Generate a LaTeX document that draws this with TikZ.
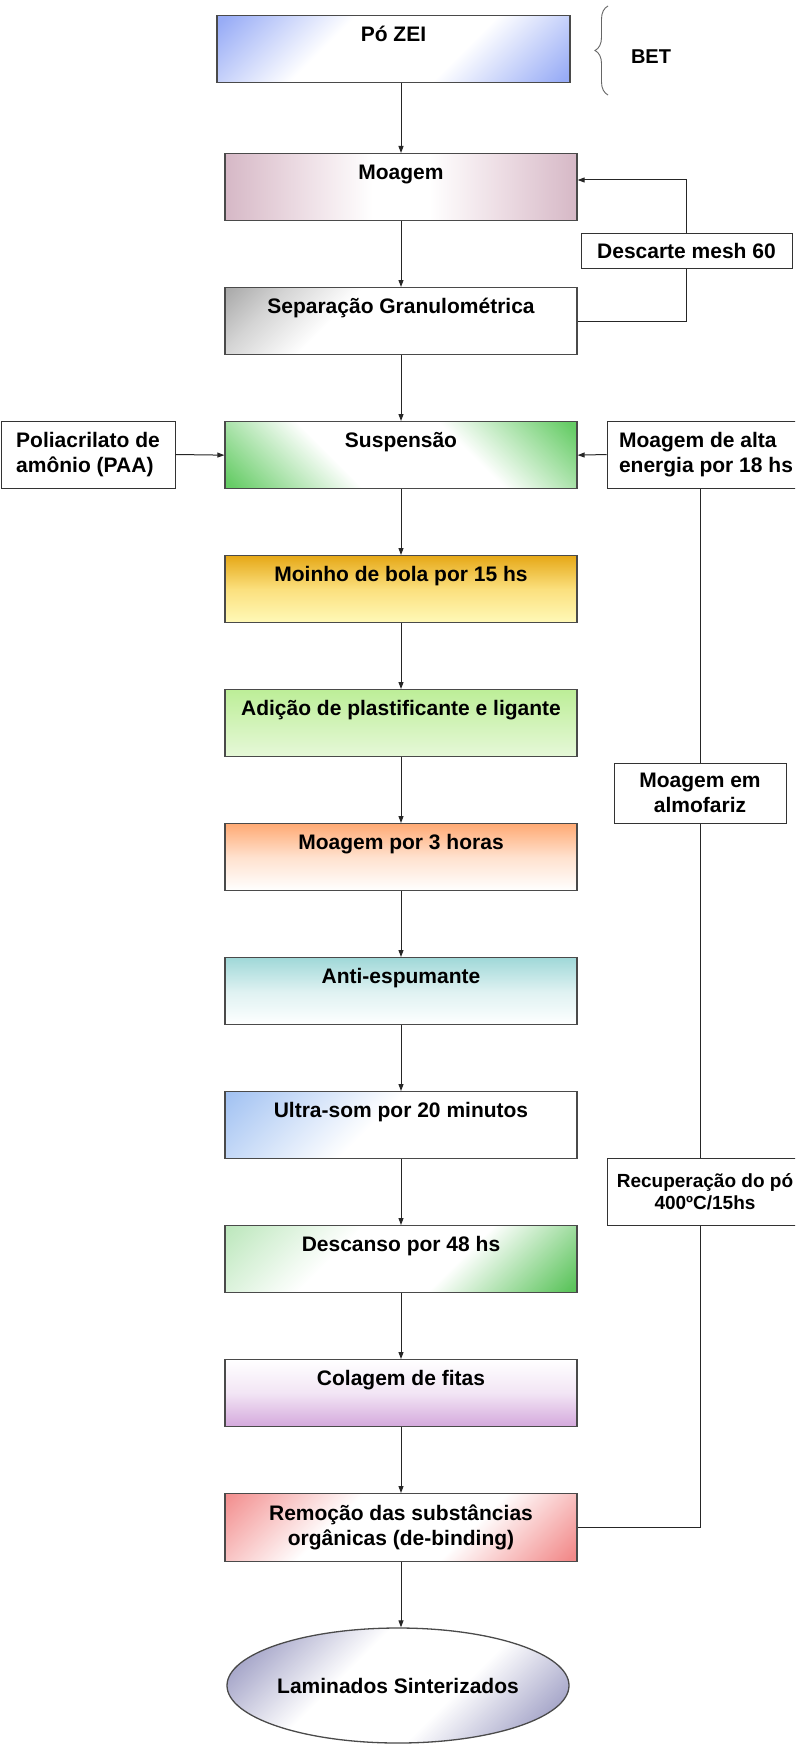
\documentclass[tikz,border=0pt]{standalone}
\usepackage{fontspec}
\setmainfont{Liberation Sans}
\usetikzlibrary{arrows.meta,shapes.geometric,decorations.pathreplacing,calc}
\definecolor{boxline}{HTML}{4A4A4A}
\definecolor{cBlue}{HTML}{98ACF6}
\definecolor{cMauve}{HTML}{D6B8C6}
\definecolor{cMauveL}{HTML}{EDDDE4}
\definecolor{cGray}{HTML}{8C8C8C}
\definecolor{cGrayL}{HTML}{D4D4D4}
\definecolor{cGreen}{HTML}{66CC66}
\definecolor{cGold}{HTML}{E6A817}
\definecolor{cGoldMid}{HTML}{FBE07E}
\definecolor{cYellow}{HTML}{FFF9B8}
\definecolor{cLime}{HTML}{BDEE98}
\definecolor{cLimeLight}{HTML}{E6F8D8}
\definecolor{cOrange}{HTML}{FFAA74}
\definecolor{cTeal}{HTML}{A0D8D8}
\definecolor{cSky}{HTML}{A2C2F2}
\definecolor{cGreenLight}{HTML}{B4E4B4}
\definecolor{cGreenDark}{HTML}{5CC45C}
\definecolor{cLilac}{HTML}{D4A8DC}
\definecolor{cRed}{HTML}{F28A8A}
\definecolor{cSlate}{HTML}{9494BE}
\pgfdeclareverticalshading{shPo}{100bp}{color(0bp)=(cBlue); color(16bp)=(cBlue); color(38bp)=(white); color(62bp)=(white); color(84bp)=(cBlue); color(100bp)=(cBlue)}
\pgfdeclarehorizontalshading{shMoag}{100bp}{color(0bp)=(cMauve); color(25bp)=(cMauve); color(36bp)=(cMauveL); color(46bp)=(white); color(54bp)=(white); color(64bp)=(cMauveL); color(75bp)=(cMauve); color(100bp)=(cMauve)}
\pgfdeclareverticalshading{shSep}{100bp}{color(0bp)=(white); color(62bp)=(white); color(75bp)=(cGrayL); color(92bp)=(cGray); color(100bp)=(cGray)}
\pgfdeclareverticalshading{shSusp}{100bp}{color(0bp)=(cGreen); color(16bp)=(cGreen); color(38bp)=(white); color(62bp)=(white); color(84bp)=(cGreen); color(100bp)=(cGreen)}
\pgfdeclareverticalshading{shUltra}{100bp}{color(0bp)=(white); color(55bp)=(white); color(85bp)=(cSky); color(100bp)=(cSky)}
\pgfdeclareverticalshading{shDesc}{100bp}{color(0bp)=(cGreenDark); color(16bp)=(cGreenDark); color(40bp)=(white); color(62bp)=(white); color(88bp)=(cGreenLight); color(100bp)=(cGreenLight)}
\pgfdeclareverticalshading{shRemo}{100bp}{color(0bp)=(cRed); color(16bp)=(cRed); color(38bp)=(white); color(62bp)=(white); color(86bp)=(cRed); color(100bp)=(cRed)}
\pgfdeclareverticalshading{shLam}{100bp}{color(0bp)=(cSlate); color(18bp)=(cSlate); color(40bp)=(white); color(60bp)=(white); color(82bp)=(cSlate); color(100bp)=(cSlate)}
\begin{document}
\begin{tikzpicture}[x=1pt,y=-1pt,
  every node/.style={font=\bfseries\fontsize{21}{25}\selectfont, text=black},
  mainbox/.style={draw=boxline, line width=1.3pt, minimum width=352pt, inner xsep=4pt, inner ysep=0pt, anchor=north},
  oneline/.style={text height=26pt, text depth=41pt},
  sidebox/.style={draw=black!80, line width=1pt, inner sep=0pt},
  conn/.style={draw=black!85, line width=1pt},
  arr/.style={conn, -{Triangle[length=7pt,width=5pt]}},
]
\useasboundingbox (0,0) rectangle (795,1744);
\clip (0,0) rectangle (795,1744);
\fill[white] (0,0) rectangle (795,1744);

% main column
\node[mainbox, oneline, minimum width=353pt, shading=shPo, shading angle=45] (po) at (393.5,15) {Pó ZEI};
\node[mainbox, oneline, shading=shMoag] (moag) at (401,153) {Moagem};
\node[mainbox, oneline, shading=shSep, shading angle=45] (sep) at (401,287) {Separação Granulométrica};
\node[mainbox, oneline, shading=shSusp, shading angle=-45] (susp) at (401,421) {Suspensão};
\node[mainbox, oneline, top color=cGold, bottom color=cYellow, middle color=cGoldMid] (moinho) at (401,555) {Moinho de bola por 15 hs};
\node[mainbox, oneline, top color=cLime, bottom color=cLimeLight] (adic) at (401,689) {Adição de plastificante e ligante};
\node[mainbox, oneline, top color=cOrange, bottom color=white, middle color=cOrange!35] (moag3) at (401,823) {Moagem por 3 horas};
\node[mainbox, oneline, top color=cTeal, bottom color=white, middle color=cTeal!35] (anti) at (401,957) {Anti-espumante};
\node[mainbox, oneline, shading=shUltra, shading angle=45] (ultra) at (401,1091) {Ultra-som por 20 minutos};
\node[mainbox, oneline, shading=shDesc, shading angle=45] (desc48) at (401,1225) {Descanso por 48 hs};
\node[mainbox, oneline, top color=white, bottom color=cLilac, middle color=cLilac!30] (colag) at (401,1359) {Colagem de fitas};
\node[mainbox, align=center, minimum height=68pt, shading=shRemo, shading angle=45] (remo) at (401,1493) {Remoção das substâncias\\orgânicas (de-binding)};
\node[ellipse, draw=boxline, line width=1.3pt, minimum width=342pt, minimum height=115pt, inner sep=0pt, shading=shLam, shading angle=45] (lam) at (398,1685.5) {Laminados Sinterizados};

% brace and BET
\coordinate (bA) at (608,95);
\coordinate (bB) at (608,6);
\draw[decorate, decoration={brace, amplitude=13pt}, draw=black!60, line width=0.9pt] (bA) -- (bB);
\node[font=\bfseries\fontsize{20}{24}\selectfont] (bet) at (651,57) {BET};

% side boxes
\node[sidebox, minimum width=211pt, minimum height=34pt] (desc) at (686.5,251) {Descarte mesh 60};
\node[sidebox, minimum width=174pt, minimum height=67pt, align=left] (paa) at (88,454.5) {Poliacrilato de\\amônio (PAA)};
\node[sidebox, minimum width=198pt, minimum height=67pt, align=left] (alta) at (706,454.5) {Moagem de alta\\energia por 18 hs};
\node[sidebox, minimum width=172pt, minimum height=60pt, align=center] (almo) at (700,793) {Moagem em\\almofariz};
\node[sidebox, minimum width=196pt, minimum height=67pt, align=center, font=\bfseries\fontsize{19}{22}\selectfont] (recup) at (705,1191.5) {Recuperação do pó\\400ºC/15hs};

% main arrows
\draw[arr] (po.south -| moag.north) -- (moag.north);
\draw[arr] (moag.south) -- (sep.north);
\draw[arr] (sep.south) -- (susp.north);
\draw[arr] (susp.south) -- (moinho.north);
\draw[arr] (moinho.south) -- (adic.north);
\draw[arr] (adic.south) -- (moag3.north);
\draw[arr] (moag3.south) -- (anti.north);
\draw[arr] (anti.south) -- (ultra.north);
\draw[arr] (ultra.south) -- (desc48.north);
\draw[arr] (desc48.south) -- (colag.north);
\draw[arr] (colag.south) -- (remo.north);
\draw[arr] (remo.south) -- (remo.south |- lam.north);

% feedback loop
\coordinate (mE) at ($(moag.north east)+(0,27)$);
\draw[conn] (sep.east) -- (sep.east -| desc.south) -- (desc.south);
\draw[arr] (desc.north) -- (desc.north |- mE) -- (mE);

% side inputs
\draw[arr] (paa.east) -- (susp.west);
\draw[arr] (alta.west) -- (susp.east);

% recovery line
\draw[conn] (almo.north |- alta.south) -- (almo.north);
\draw[conn] (almo.south) -- (almo.south |- recup.north);
\draw[conn] (almo.south |- recup.south) -- (almo.south |- remo.east) -- (remo.east);
\end{tikzpicture}
\end{document}
